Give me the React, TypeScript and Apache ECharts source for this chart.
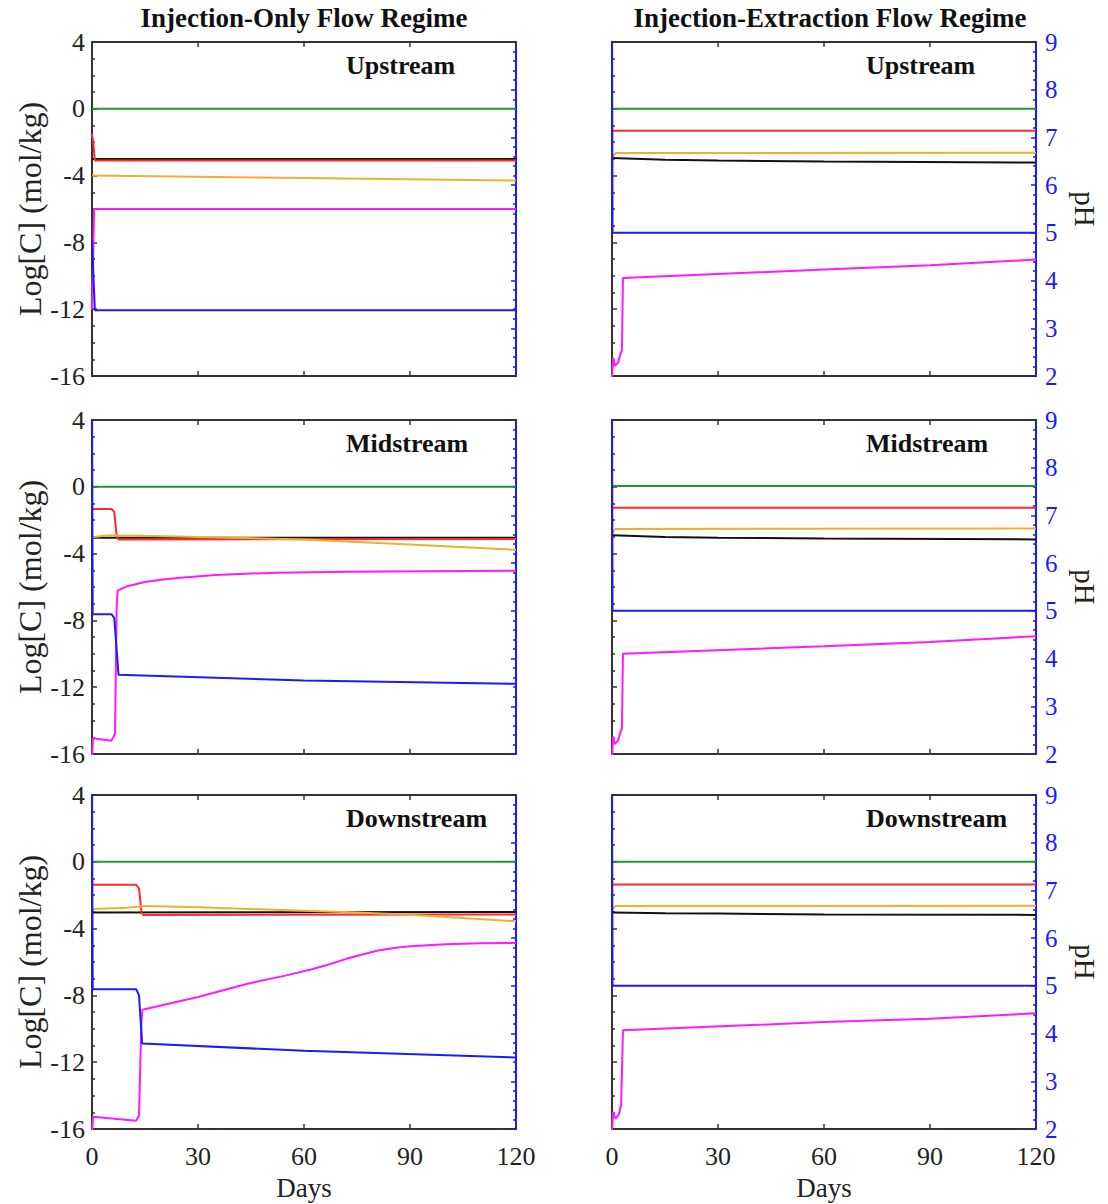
import React, { useEffect, useRef } from "react";
import * as echarts from "echarts";

// ---------- data (x = days, y = Log[C] for concentration series, pH for blue) ----------
const xTicks = [0, 30, 60, 90, 120];
const colTitles = ["Injection-Only Flow Regime", "Injection-Extraction Flow Regime"];
const rowLabels = ["Upstream", "Midstream", "Downstream"];

// Injection-only, Upstream
const ioUpGreen = [[0, 0], [120, 0]];
const ioUpBlack = [[0, -3.0], [120, -3.0]];
const ioUpRed = [[0, -1.5], [0.3, -1.9], [0.8, -3.1], [120, -3.1]];
const ioUpOrange = [[0, -4.0], [60, -4.15], [120, -4.3]];
const ioUpMagenta = [[0, -12.0], [0.6, -6.0], [120, -6.0]];
const ioUpPH = [[0, 4.85], [0.8, 3.38], [120, 3.38]];

// Injection-only, Midstream
const ioMidGreen = [[0, 0], [120, 0]];
const ioMidBlack = [[0, -3.05], [120, -3.05]];
const ioMidRed = [[0, -1.33], [5.5, -1.33], [6.3, -1.5], [7, -3.0], [7.5, -3.15], [120, -3.12]];
const ioMidOrange = [[0, -3.02], [4, -2.92], [10, -2.92], [30, -3.0], [60, -3.15], [90, -3.45], [120, -3.78]];
const ioMidMagenta = [[0, -16.3], [0.3, -15.05], [5.5, -15.2], [6.5, -14.8], [7, -7.0], [7.3, -6.2], [10, -5.95], [15, -5.7], [20, -5.55], [25, -5.45], [35, -5.28], [45, -5.19], [53, -5.14], [72, -5.08], [120, -5.03]];
const ioMidPH = [[0, 9.5], [0.2, 4.93], [5.5, 4.93], [6.3, 4.85], [7.5, 3.66], [60, 3.54], [120, 3.47]];

// Injection-only, Downstream
const ioDnGreen = [[0, 0], [120, 0]];
const ioDnBlack = [[0, -3.03], [120, -3.0]];
const ioDnRed = [[0, -1.37], [12.5, -1.37], [13.3, -1.6], [14, -3.0], [14.5, -3.18], [120, -3.16]];
const ioDnOrange = [[0, -2.83], [10, -2.75], [15, -2.65], [30, -2.72], [60, -2.93], [75, -3.03], [90, -3.17], [120, -3.56]];
const ioDnMagenta = [[0, -16.3], [0.3, -15.27], [12.5, -15.5], [13.3, -15.2], [14, -9.5], [14.3, -8.86], [30, -8.1], [44, -7.3], [55, -6.8], [62, -6.45], [67, -6.15], [72, -5.81], [77, -5.52], [81, -5.31], [86, -5.15], [90, -5.06], [100, -4.93], [110, -4.88], [120, -4.86]];
const ioDnPH = [[0, 9.5], [0.2, 4.93], [12.5, 4.93], [13.3, 4.8], [14.2, 3.79], [60, 3.64], [120, 3.5]];

// Injection-extraction, Upstream
const ieUpGreen = [[0, 0], [120, 0]];
const ieUpBlack = [[0, -2.95], [15, -3.05], [30, -3.1], [60, -3.16], [120, -3.22]];
const ieUpRed = [[0, -1.31], [120, -1.31]];
const ieUpOrange = [[0, -2.9], [1, -2.65], [120, -2.63]];
const ieUpMagenta = [[0, -16.3], [0.3, -14.9], [0.8, -15.4], [1.7, -15.2], [2.5, -14.6], [2.8, -14.5], [3.1, -10.13], [60, -9.63], [90, -9.37], [120, -9.03]];
const ieUpPH = [[0, 9.5], [0.15, 5.0], [120, 5.0]];

// Injection-extraction, Midstream
const ieMidGreen = [[0, 0.05], [120, 0.05]];
const ieMidBlack = [[0, -2.9], [15, -3.0], [30, -3.05], [60, -3.1], [120, -3.15]];
const ieMidRed = [[0, -1.25], [120, -1.25]];
const ieMidOrange = [[0, -2.75], [1, -2.52], [120, -2.5]];
const ieMidMagenta = [[0, -16.3], [0.3, -14.95], [0.8, -15.4], [1.7, -15.2], [2.5, -14.6], [2.8, -14.5], [3.1, -10.0], [60, -9.55], [90, -9.3], [120, -8.95]];
const ieMidPH = [[0, 9.5], [0.15, 5.0], [120, 5.0]];

// Injection-extraction, Downstream
const ieDnGreen = [[0, 0], [120, 0]];
const ieDnBlack = [[0, -3.03], [15, -3.08], [30, -3.1], [60, -3.15], [120, -3.18]];
const ieDnRed = [[0, -1.36], [120, -1.36]];
const ieDnOrange = [[0, -2.83], [1, -2.65], [120, -2.63]];
const ieDnMagenta = [[0, -16.3], [0.3, -14.97], [1, -15.4], [2, -15.1], [2.6, -14.5], [3.1, -10.09], [60, -9.6], [90, -9.4], [120, -9.07]];
const ieDnPH = [[0, 9.5], [0.15, 5.0], [120, 5.0]];

const panels = [
  [ioUpGreen, ioUpBlack, ioUpRed, ioUpOrange, ioUpMagenta, ioUpPH],
  [ieUpGreen, ieUpBlack, ieUpRed, ieUpOrange, ieUpMagenta, ieUpPH],
  [ioMidGreen, ioMidBlack, ioMidRed, ioMidOrange, ioMidMagenta, ioMidPH],
  [ieMidGreen, ieMidBlack, ieMidRed, ieMidOrange, ieMidMagenta, ieMidPH],
  [ioDnGreen, ioDnBlack, ioDnRed, ioDnOrange, ioDnMagenta, ioDnPH],
  [ieDnGreen, ieDnBlack, ieDnRed, ieDnOrange, ieDnMagenta, ieDnPH],
];

// ---------- styling ----------
const SERIF = '"Liberation Serif", "Times New Roman", serif';
const COLORS = ["#1f9a1f", "#111111", "#ff2a2a", "#efb030", "#ff1aff", "#1a1aff"];
const AXIS = "#333333";
const BLUE = "#1a1aff";
const colLeft = [92, 612];
const rowTop = [42, 420, 795];
const W = 424;
const H = 334;

export default function App() {
  const ref = useRef<HTMLDivElement>(null);
  useEffect(() => {
    if (!ref.current) return;
    const chart = echarts.init(ref.current, null, { renderer: "svg" });
    const grid: any[] = [];
    const xAxis: any[] = [];
    const yAxis: any[] = [];
    const series: any[] = [];
    const graphic: any[] = [];

    for (let r = 0; r < 3; r++) {
      for (let c = 0; c < 2; c++) {
        const gi = r * 2 + c;
        grid.push({ left: colLeft[c], top: rowTop[r], width: W, height: H });
        const bottomRow = r === 2;
        xAxis.push({
          type: "value", gridIndex: gi, position: "bottom", min: xTicks[0], max: xTicks[xTicks.length - 1], interval: 30,
          axisLine: { show: true, onZero: false, lineStyle: { color: AXIS, width: 2 } },
          axisTick: { show: true, inside: true, length: 5, lineStyle: { color: AXIS, width: 1.5 } },
          axisLabel: { show: bottomRow, fontFamily: SERIF, fontSize: 26, color: "#222", margin: 14 },
          splitLine: { show: false },
          name: bottomRow ? "Days" : "", nameLocation: "middle", nameGap: 45,
          nameTextStyle: { fontFamily: SERIF, fontSize: 27, color: "#222" },
        });
        xAxis.push({
          type: "value", gridIndex: gi, position: "top", min: 0, max: 120, interval: 30,
          axisLine: { show: true, onZero: false, lineStyle: { color: AXIS, width: 2 } },
          axisTick: { show: true, inside: true, length: 5, lineStyle: { color: AXIS, width: 1.5 } },
          axisLabel: { show: false }, splitLine: { show: false },
        });
        yAxis.push({
          type: "value", gridIndex: gi, position: "left", min: -16, max: 4, interval: 4,
          axisLine: { show: true, onZero: false, lineStyle: { color: AXIS, width: 2 } },
          axisTick: { show: true, inside: true, length: 5, lineStyle: { color: AXIS, width: 1.5 } },
          minorTick: { show: true, splitNumber: 4, length: 3, lineStyle: { color: AXIS, width: 1.5 } },
          axisLabel: { show: c === 0, fontFamily: SERIF, fontSize: 26, color: "#222", margin: 7 },
          splitLine: { show: false },
          name: c === 0 ? "Log[C] (mol/kg)" : "", nameLocation: "middle", nameGap: 46, nameRotate: 90,
          nameTextStyle: { fontFamily: SERIF, fontSize: 32, color: "#222" },
        });
        yAxis.push({
          type: "value", gridIndex: gi, position: "right", min: 2, max: 9, interval: 1,
          axisLine: { show: true, onZero: false, lineStyle: { color: BLUE, width: 2 } },
          axisTick: { show: true, inside: true, length: 5, lineStyle: { color: BLUE, width: 1.5 } },
          minorTick: { show: true, splitNumber: 5, length: 3, lineStyle: { color: BLUE, width: 1.5 } },
          axisLabel: { show: c === 1, fontFamily: SERIF, fontSize: 25, color: BLUE, margin: 9, lineHeight: 22 },
          splitLine: { show: false },
          name: c === 1 ? "pH" : "", nameLocation: "middle", nameGap: 34, nameRotate: -90,
          nameTextStyle: { fontFamily: SERIF, fontSize: 29, color: "#222" },
        });

        panels[gi].forEach((data, si) => {
          series.push({
            type: "line", xAxisIndex: gi * 2, yAxisIndex: si === 5 ? gi * 2 + 1 : gi * 2,
            data, showSymbol: false, symbol: "none", clip: true,
            lineStyle: { color: COLORS[si], width: 2 }, z: 2 + si,
          });
        });

        graphic.push({
          type: "text", left: colLeft[c] + 254, top: rowTop[r] + 10,
          style: { text: rowLabels[r], font: `bold 26px ${SERIF}`, fill: "#111" },
        });
      }
    }
    graphic.push(
      { type: "text", x: colLeft[0] + W / 2 + 0, y: 18, style: { text: colTitles[0], font: `bold 27px ${SERIF}`, fill: "#111", align: "center", verticalAlign: "middle" } },
      { type: "text", x: colLeft[1] + W / 2 + 6, y: 18, style: { text: colTitles[1], font: `bold 27px ${SERIF}`, fill: "#111", align: "center", verticalAlign: "middle" } },
    );

    chart.setOption({
      animation: false,
      backgroundColor: "#ffffff",
      grid, xAxis, yAxis, series, graphic,
    });
    return () => chart.dispose();
  }, []);
  return <div ref={ref} style={{ position: "absolute", left: 0, top: 0, width: 1108, height: 1204 }} />;
}
